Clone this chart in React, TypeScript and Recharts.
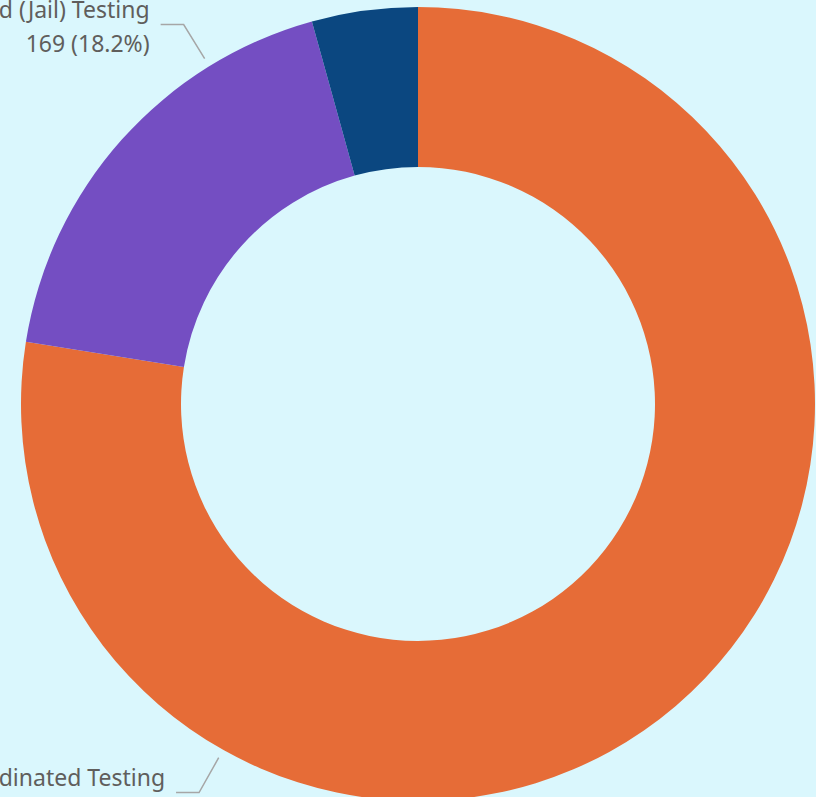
import { PieChart, Pie, Cell } from 'recharts';

// testing categories (clockwise from 12 o'clock)
const CATEGORIES = ['Coordinated Testing', 'Court Ordered (Jail) Testing', 'Other Testing'];
const COUNTS = [720, 169, 40];
const COLORS = ['#E66C37', '#744EC2', '#0B4780'];

// where Power BI put each outside label (degrees, counter-clockwise from 3 o'clock)
const LABEL_ANGLES = [240.6, 121.7, 93];

const BG = '#DAF7FD';
const RADIAN = Math.PI / 180;

const data = CATEGORIES.map((name, i) => ({ name, value: COUNTS[i] }));
const total = COUNTS.reduce((a, b) => a + b, 0);

function renderLabel(props: any) {
  const { cx, cy, outerRadius, index, value, name } = props;
  const a = LABEL_ANGLES[index] * RADIAN;
  const cos = Math.cos(a);
  const sin = -Math.sin(a);
  const sx = cx + (outerRadius + 9) * cos;
  const sy = cy + (outerRadius + 9) * sin;
  const ex = cx + (outerRadius + 49) * cos;
  const ey = cy + (outerRadius + 49) * sin;
  const left = cos < 0;
  const hx = ex + (left ? -23 : 23);
  const tx = hx + (left ? -11 : 11);
  const pct = ((value / total) * 100).toFixed(1);
  return (
    <g>
      <polyline
        points={`${sx},${sy} ${ex},${ey} ${hx},${ey}`}
        fill="none"
        stroke="#A6A6A6"
        strokeWidth={1.5}
      />
      <text x={tx} y={ey - 6.5} textAnchor={left ? 'end' : 'start'} fill="#605E5C" fontSize={23}>
        {name}
      </text>
      <text x={tx} y={ey + 27} textAnchor={left ? 'end' : 'start'} fill="#605E5C" fontSize={23}>
        {`${value} (${pct}%)`}
      </text>
    </g>
  );
}

export default function App() {
  return (
    <div
      style={{
        position: 'fixed',
        inset: 0,
        background: BG,
        overflow: 'hidden',
        fontFamily: '"Noto Sans", "Open Sans", sans-serif',
      }}
    >
      <PieChart width={816} height={797} margin={{ top: 0, right: 0, bottom: 0, left: 0 }}>
        <Pie
          data={data}
          dataKey="value"
          nameKey="name"
          cx={418}
          cy={404}
          innerRadius={237}
          outerRadius={397}
          startAngle={90}
          endAngle={-270}
          stroke="none"
          label={renderLabel}
          labelLine={false}
          isAnimationActive={false}
        >
          {data.map((d, i) => (
            <Cell key={d.name} fill={COLORS[i]} />
          ))}
        </Pie>
      </PieChart>
    </div>
  );
}
